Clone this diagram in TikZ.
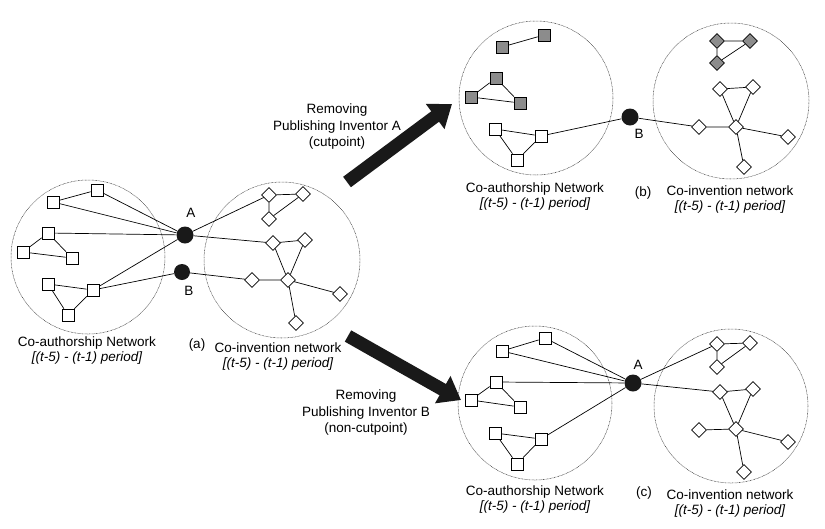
\documentclass[tikz,border=0pt]{standalone}
\usepackage{fontspec}
\setmainfont{Liberation Sans}
\usetikzlibrary{shapes.geometric,arrows.meta}
\tikzset{
  sq/.style={draw, fill=white, rectangle, minimum size=12pt, inner sep=0pt, line width=0.7pt},
  gsq/.style={sq, fill=gray!90},
  dia/.style={draw, fill=white, diamond, minimum size=15pt, inner sep=0pt, line width=0.7pt},
  gdia/.style={dia, fill=gray!90},
  hub/.style={circle, fill=black!90, minimum size=17pt, inner sep=0pt},
  grp/.style={circle, draw=black!80, line width=0.5pt, dash pattern=on 0.7pt off 0.7pt, inner sep=0pt},
  lbl/.style={font=\fontsize{13.5}{15}\selectfont, align=center, inner sep=0pt},
  edge/.style={line width=0.7pt},
  bigarrow/.style={line width=13pt, draw=black!90, -{Triangle[length=21pt,width=30pt]}}
}
\begin{document}
\begin{tikzpicture}[x=1pt,y=-1pt]
\useasboundingbox (0,0) rectangle (825,528);
% ---------- panel (a)
\node[grp, minimum size=154pt] (ca1) at (88,257) {};
\node[grp, minimum size=156pt] (ca2) at (282,260) {};
\node[sq] (a1) at (97,190) {};
\node[sq] (a2) at (53,202) {};
\node[sq] (a3) at (48,233) {};
\node[sq] (a4) at (23,252) {};
\node[sq] (a5) at (72,258) {};
\node[sq] (a6) at (48,284) {};
\node[sq] (a7) at (93,290) {};
\node[sq] (a8) at (68,315) {};
\node[hub] (aA) at (185,235) {};
\node[hub, minimum size=16pt] (aB) at (182,272) {};
\node[dia] (ad1) at (269,195) {};
\node[dia] (ad2) at (303,194) {};
\node[dia] (ad3) at (269,219) {};
\node[dia] (ad4) at (273,243) {};
\node[dia] (ad5) at (305,240) {};
\node[dia] (ad6) at (288,280) {};
\node[dia] (ad7) at (252,280) {};
\node[dia] (ad8) at (340,294) {};
\node[dia] (ad9) at (296,323) {};
\draw[edge] (a2)--(a1) (a2)--(aA) (a1)--(aA) (a3)--(aA) (a3)--(a4) (a3)--(a5) (a4)--(a5)
  (a6)--(a7) (a6)--(a8) (a8)--(a7) (a7)--(aA) (a7)--(aB)
  (aA)--(ad1) (aA)--(ad4) (aB)--(ad7)
  (ad1)--(ad2) (ad1)--(ad3) (ad2)--(ad3) (ad4)--(ad5) (ad4)--(ad6) (ad5)--(ad6)
  (ad7)--(ad6) (ad6)--(ad8) (ad6)--(ad9);
\node[lbl] (aAl) at (191,213) {A};
\node[lbl] (aBl) at (189,291) {B};
\node[lbl] (alab1) at (87,351) {Co-authorship Network\\ \itshape [(t-5) - (t-1) period]};
\node[lbl] (alab) at (197,345) {(a)};
\node[lbl] (alab2) at (278,357) {Co-invention network\\ \itshape [(t-5) - (t-1) period]};
% ---------- panel (b)
\node[grp, minimum size=154pt] (cb1) at (536,98) {};
\node[grp, minimum size=156pt] (cb2) at (731,101) {};
\node[gsq] (b1) at (544,35) {};
\node[gsq] (b2) at (502,47) {};
\node[gsq] (b3) at (496,78) {};
\node[gsq] (b4) at (471,97) {};
\node[gsq] (b5) at (520,103) {};
\node[sq] (b6) at (495,129) {};
\node[sq] (b7) at (541,136) {};
\node[sq] (b8) at (517,160) {};
\node[hub] (bB) at (630,117) {};
\node[gdia] (bd1) at (717,41) {};
\node[gdia] (bd2) at (750,41) {};
\node[gdia] (bd3) at (717,63) {};
\node[dia] (bd4) at (720,89) {};
\node[dia] (bd5) at (753,87) {};
\node[dia] (bd6) at (736,127) {};
\node[dia] (bd7) at (699,127) {};
\node[dia] (bd8) at (788,137) {};
\node[dia] (bd9) at (744,167) {};
\draw[edge] (b2)--(b1) (b3)--(b4) (b3)--(b5) (b4)--(b5)
  (b6)--(b7) (b6)--(b8) (b8)--(b7) (b7)--(bB) (bB)--(bd7)
  (bd1)--(bd2) (bd1)--(bd3) (bd2)--(bd3) (bd4)--(bd5) (bd4)--(bd6) (bd5)--(bd6)
  (bd7)--(bd6) (bd6)--(bd8) (bd6)--(bd9);
\node[lbl] (bBl) at (639,134) {B};
\node[lbl] (blab1) at (535,197) {Co-authorship Network\\ \itshape [(t-5) - (t-1) period]};
\node[lbl] (blab) at (643,193) {(b)};
\node[lbl] (blab2) at (730,200) {Co-invention network\\ \itshape [(t-5) - (t-1) period]};
% ---------- panel (c)
\node[grp, minimum size=154pt] (cc1) at (535,403) {};
\node[grp, minimum size=154pt] (cc2) at (731,406) {};
\node[sq] (c1) at (545,338) {};
\node[sq] (c2) at (502,351) {};
\node[sq] (c3) at (496,382) {};
\node[sq] (c4) at (471,400) {};
\node[sq] (c5) at (520,407) {};
\node[sq] (c6) at (495,433) {};
\node[sq] (c7) at (541,439) {};
\node[sq] (c8) at (517,464) {};
\node[hub] (cA) at (633,383) {};
\node[dia] (cd1) at (717,344) {};
\node[dia] (cd2) at (750,343) {};
\node[dia] (cd3) at (717,367) {};
\node[dia] (cd4) at (720,392) {};
\node[dia] (cd5) at (753,389) {};
\node[dia] (cd6) at (736,429) {};
\node[dia] (cd7) at (699,430) {};
\node[dia] (cd8) at (788,442) {};
\node[dia] (cd9) at (744,472) {};
\draw[edge] (c2)--(c1) (c2)--(cA) (c1)--(cA) (c3)--(cA) (c3)--(c4) (c3)--(c5) (c4)--(c5)
  (c6)--(c7) (c6)--(c8) (c8)--(c7) (c7)--(cA)
  (cA)--(cd1) (cA)--(cd4)
  (cd1)--(cd2) (cd1)--(cd3) (cd2)--(cd3) (cd4)--(cd5) (cd4)--(cd6) (cd5)--(cd6)
  (cd7)--(cd6) (cd6)--(cd8) (cd6)--(cd9);
\node[lbl] (cAl) at (638,365) {A};
\node[lbl] (clab1) at (535,500) {Co-authorship Network\\ \itshape [(t-5) - (t-1) period]};
\node[lbl] (clab) at (644,493) {(c)};
\node[lbl] (clab2) at (730,504) {Co-invention network\\ \itshape [(t-5) - (t-1) period]};
% ---------- arrows
\coordinate (u1) at (347,182);
\coordinate (u2) at (452,104);
\coordinate (l1) at (348,336);
\coordinate (l2) at (461,400);
\draw[bigarrow] (u1) -- (u2);
\draw[bigarrow] (l1) -- (l2);
\node[lbl, font=\fontsize{13.5}{16.5}\selectfont] (utext) at (337,127) {Removing\\Publishing Inventor A\\(cutpoint)};
\node[lbl, font=\fontsize{13.5}{16.5}\selectfont] (ltext) at (366,413) {Removing\\Publishing Inventor B\\(non-cutpoint)};
\end{tikzpicture}
\end{document}
